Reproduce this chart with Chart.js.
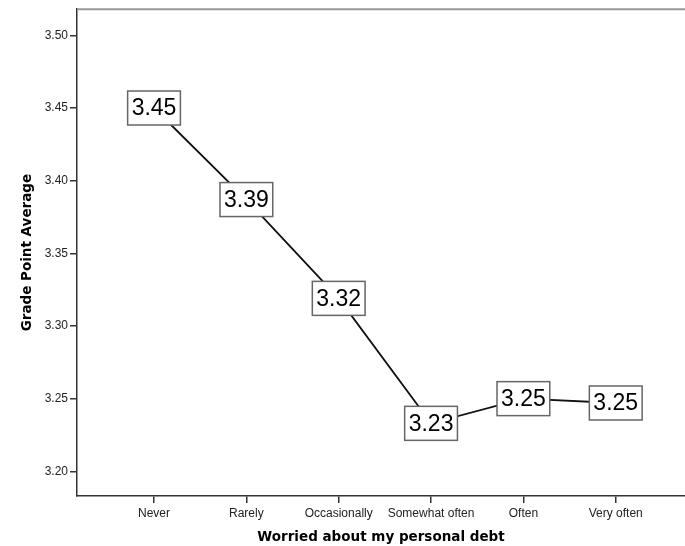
<!DOCTYPE html>
<html>
<head>
<meta charset="utf-8">
<script src="https://cdn.jsdelivr.net/npm/chart.js@4.4.1/dist/chart.umd.min.js"></script>
<style>
  html, body { margin: 0; padding: 0; background: #fff; }
  #wrap { width: 685px; height: 546px; }
</style>
</head>
<body>
<div id="wrap"><canvas id="myChart"></canvas></div>
<script>
// chart data
const categories = ['Never', 'Rarely', 'Occasionally', 'Somewhat often', 'Often', 'Very often'];
const gpaMeans = [3.450, 3.387, 3.319, 3.233, 3.250, 3.247];
const yTicks = [3.20, 3.25, 3.30, 3.35, 3.40, 3.45, 3.50];

// boxed value labels drawn over the line
const valueBoxes = {
  id: 'valueBoxes',
  afterDatasetsDraw(chart) {
    const ctx = chart.ctx;
    const meta = chart.getDatasetMeta(0);
    ctx.save();
    ctx.font = '23px "Liberation Sans", Arial, sans-serif';
    ctx.textAlign = 'center';
    ctx.textBaseline = 'middle';
    meta.data.forEach((pt, i) => {
      const txt = gpaMeans[i].toFixed(2);
      const w = ctx.measureText(txt).width + 8;
      const h = 34;
      ctx.fillStyle = '#fff';
      ctx.fillRect(pt.x - w / 2, pt.y - h / 2, w, h);
      ctx.strokeStyle = '#666';
      ctx.lineWidth = 1.5;
      ctx.strokeRect(pt.x - w / 2, pt.y - h / 2, w, h);
      ctx.fillStyle = '#000';
      ctx.fillText(txt, pt.x, pt.y + 1);
    });
    ctx.restore();
  },
};

// grey line along top of plot frame
const topFrame = {
  id: 'topFrame',
  afterDraw(chart) {
    const { ctx, chartArea } = chart;
    ctx.save();
    ctx.strokeStyle = '#999';
    ctx.lineWidth = 2;
    ctx.beginPath();
    ctx.moveTo(chartArea.left, chartArea.top);
    ctx.lineTo(chartArea.right, chartArea.top);
    ctx.stroke();
    ctx.restore();
  },
};

const chart = document.getElementById('myChart').getContext('2d');
const myChart = new Chart(chart, {
  type: 'line',
  data: {
    datasets: [
      {
        data: gpaMeans.map((v, i) => ({ x: i, y: v })),
        borderColor: '#111',
        borderWidth: 1.8,
        pointRadius: 0,
        tension: 0,
      },
    ],
  },
  plugins: [valueBoxes, topFrame],
  options: {
    responsive: true,
    maintainAspectRatio: false,
    animation: false,
    layout: { padding: { top: 7, left: 0, right: 0, bottom: 0 } },
    plugins: {
      legend: { display: false },
      tooltip: { enabled: false },
    },
    scales: {
      x: {
        type: 'linear',
        min: -0.834,
        max: 5.75,
        afterBuildTicks: (scale) => {
          scale.ticks = categories.map((c, i) => ({ value: i }));
        },
        afterFit: (scale) => {
          scale.height = 50;
        },
        ticks: {
          callback: (v) => categories[v],
          color: '#222',
          font: { size: 12, family: '"Liberation Sans", Arial, sans-serif' },
          padding: 3,
          maxRotation: 0,
          autoSkip: false,
        },
        grid: {
          drawOnChartArea: false,
          drawTicks: true,
          tickLength: 7,
          color: '#333',
          lineWidth: 1.5,
        },
        border: { display: true, color: '#333', width: 1.5 },
        title: {
          display: true,
          text: 'Worried about my personal debt',
          color: '#000',
          font: { size: 13.5, weight: 'bold', family: '"DejaVu Sans", sans-serif' },
          padding: { top: 0, bottom: 0 },
        },
      },
      y: {
        min: 3.183,
        max: 3.518,
        afterBuildTicks: (scale) => {
          scale.ticks = yTicks.map((v) => ({ value: v }));
        },
        afterFit: (scale) => {
          scale.width = 77;
        },
        ticks: {
          callback: (v) => v.toFixed(2),
          color: '#222',
          font: { size: 12, family: '"Liberation Sans", Arial, sans-serif' },
          padding: 2,
        },
        grid: {
          drawOnChartArea: false,
          drawTicks: true,
          tickLength: 7,
          color: '#333',
          lineWidth: 1.5,
        },
        border: { display: true, color: '#333', width: 1.5 },
        title: {
          display: true,
          text: 'Grade Point Average',
          color: '#000',
          font: { size: 13.5, weight: 'bold', family: '"DejaVu Sans", sans-serif' },
          padding: { top: 19, bottom: 0 },
        },
      },
    },
  },
});
</script>
</body>
</html>
